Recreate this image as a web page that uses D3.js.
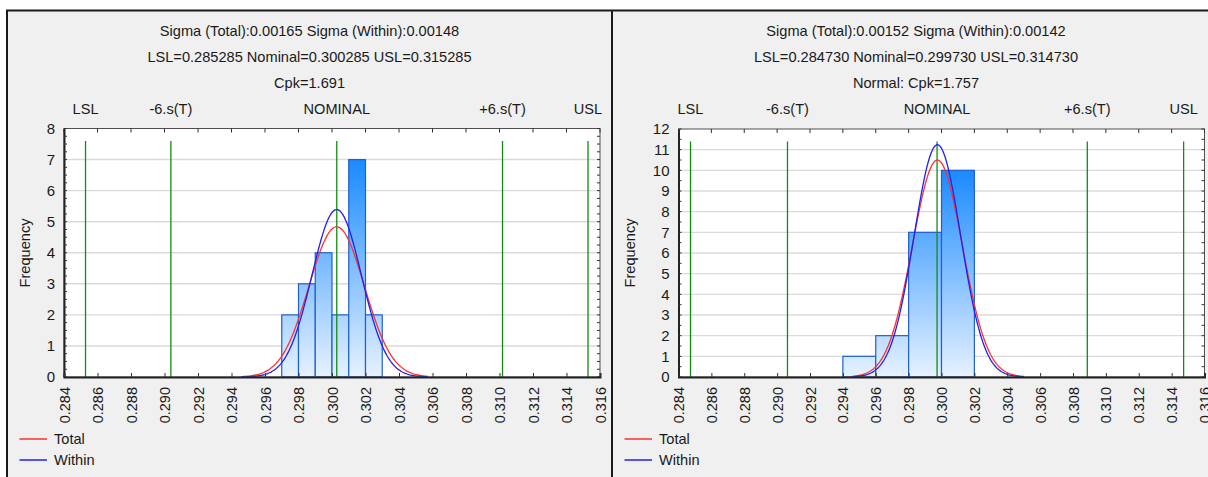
<!DOCTYPE html>
<html>
<head>
<meta charset="utf-8">
<script src="https://cdn.jsdelivr.net/npm/d3@7"></script>
<style>
  body { margin: 0; background: #ffffff; }
  svg { display: block; font-family: "Liberation Sans", Arial, sans-serif; }
</style>
</head>
<body>
<svg id="chart" width="1208" height="477"></svg>
<script>
// ---- shared axis labels ----
const xTickValues = [0.284, 0.286, 0.288, 0.290, 0.292, 0.294, 0.296, 0.298,
                     0.300, 0.302, 0.304, 0.306, 0.308, 0.310, 0.312, 0.314, 0.316];
const specLineLabels = ["LSL", "-6.s(T)", "NOMINAL", "+6.s(T)", "USL"];
const legendLabels = ["Total", "Within"];

// ---- left study ----
const leftTitle = ["Sigma (Total):0.00165 Sigma (Within):0.00148",
                   "LSL=0.285285 Nominal=0.300285 USL=0.315285",
                   "Cpk=1.691"];
const leftBinEdges = [0.297, 0.298, 0.299, 0.300, 0.301, 0.302, 0.303];
const leftCounts = [2, 3, 4, 2, 7, 2];
const leftSpecLimits = [0.285285, 0.300285, 0.315285];   // LSL, Nominal, USL
const leftMean = 0.30028;
const leftSigmas = [0.00165, 0.00148];                    // Total, Within
const leftCurveSpan = [0.2946, 0.3057];
const leftYTicks = [0, 1, 2, 3, 4, 5, 6, 7, 8];

// ---- right study ----
const rightTitle = ["Sigma (Total):0.00152 Sigma (Within):0.00142",
                    "LSL=0.284730 Nominal=0.299730 USL=0.314730",
                    "Normal: Cpk=1.757"];
const rightBinEdges = [0.294, 0.296, 0.298, 0.300, 0.302];
const rightCounts = [1, 2, 7, 10];
const rightSpecLimits = [0.284730, 0.299730, 0.314730];
const rightMean = 0.29975;
const rightSigmas = [0.00152, 0.00142];
const rightCurveSpan = [0.29458, 0.30502];
const rightYTicks = [0, 1, 2, 3, 4, 5, 6, 7, 8, 9, 10, 11, 12];

const svg = d3.select("#chart");
const curveColors = ["#ff3030", "#2020f0"];

// gradients used for the histogram bars (deep at the tallest bar, pale at zero)
const defs = svg.append("defs");

function drawPanel(cfg, id) {
  const { frame, plot } = cfg;
  const g = svg.append("g");

  // panel background
  g.append("rect")
    .attr("x", frame[0]).attr("y", 10)
    .attr("width", frame[1] - frame[0]).attr("height", 480)
    .attr("fill", "#f0f0f0");

  const x = d3.scaleLinear().domain([xTickValues[0], xTickValues[xTickValues.length - 1]])
    .range([plot.left, plot.right]);
  const yMax = d3.max(cfg.yTicks);
  const y = d3.scaleLinear().domain([0, yMax]).range([plot.bottom, plot.top]);

  // title lines
  const cx = (frame[0] + frame[1]) / 2;
  g.selectAll("text.title").data(cfg.title).join("text")
    .attr("class", "title")
    .attr("x", cx).attr("y", (d, i) => 31 + i * 26)
    .attr("dy", "0.35em")
    .attr("text-anchor", "middle")
    .attr("font-size", 14.6).attr("fill", "#1a1a1a")
    .text(d => d);

  // plot area
  g.append("rect")
    .attr("x", plot.left).attr("y", plot.top)
    .attr("width", plot.right - plot.left).attr("height", plot.bottom - plot.top)
    .attr("fill", "#ffffff");

  // horizontal gridlines
  g.selectAll("line.grid").data(cfg.yTicks.filter(v => v > 0 && v < yMax)).join("line")
    .attr("x1", plot.left).attr("x2", plot.right)
    .attr("y1", d => y(d)).attr("y2", d => y(d))
    .attr("stroke", "#dadada").attr("stroke-width", 1.4);

  // bars
  const maxCount = d3.max(cfg.counts);
  const grad = defs.append("linearGradient")
    .attr("id", "barFill" + id)
    .attr("gradientUnits", "userSpaceOnUse")
    .attr("x1", 0).attr("x2", 0)
    .attr("y1", y(maxCount)).attr("y2", y(0));
  grad.append("stop").attr("offset", 0).attr("stop-color", "#1a8aff");
  grad.append("stop").attr("offset", 1).attr("stop-color", "#e6f2ff");

  const bins = cfg.counts.map((c, i) => ({ x0: cfg.edges[i], x1: cfg.edges[i + 1], count: c }));
  g.selectAll("rect.bar").data(bins).join("rect")
    .attr("class", "bar")
    .attr("x", d => x(d.x0)).attr("width", d => x(d.x1) - x(d.x0))
    .attr("y", d => y(d.count)).attr("height", d => y(0) - y(d.count))
    .attr("fill", `url(#barFill${id})`)
    .attr("stroke", "#1f5fd0").attr("stroke-width", 1.2);

  // specification and ±6 sigma lines
  const sT = cfg.sigmas[0];
  const specValues = [cfg.specs[0], cfg.mean - 6 * sT, cfg.specs[1], cfg.mean + 6 * sT, cfg.specs[2]];
  g.selectAll("line.spec").data(specValues).join("line")
    .attr("x1", d => x(d)).attr("x2", d => x(d))
    .attr("y1", plot.top + 12.5).attr("y2", plot.bottom)
    .attr("stroke", "#138a13").attr("stroke-width", 1.3);

  g.selectAll("text.spec").data(specValues).join("text")
    .attr("x", d => x(d)).attr("y", 109)
    .attr("dy", "0.35em").attr("text-anchor", "middle")
    .attr("font-size", 14.6).attr("fill", "#1a1a1a")
    .text((d, i) => specLineLabels[i]);

  // fitted normal curves: Total and Within
  const n = d3.sum(cfg.counts);
  const binWidth = cfg.edges[1] - cfg.edges[0];
  const samples = d3.range(0, 201).map(i => cfg.span[0] + i * (cfg.span[1] - cfg.span[0]) / 200);
  const line = d3.line().x(d => x(d[0])).y(d => y(d[1])).curve(d3.curveLinear);
  cfg.sigmas.forEach((s, k) => {
    const pts = samples.map(v => [v, n * binWidth * Math.exp(-0.5 * ((v - cfg.mean) / s) ** 2) / (s * Math.sqrt(2 * Math.PI))]);
    g.append("path").datum(pts)
      .attr("d", line).attr("fill", "none")
      .attr("stroke", curveColors[k]).attr("stroke-width", 1.3);
  });

  // frame of the plot area
  g.append("rect")
    .attr("x", plot.left).attr("y", plot.top)
    .attr("width", plot.right - plot.left).attr("height", plot.bottom - plot.top)
    .attr("fill", "none").attr("stroke", "#505050").attr("stroke-width", 1);

  // left axis
  const yAxis = d3.axisLeft(y).tickValues(cfg.yTicks).tickSize(0).tickPadding(9).tickFormat(d3.format("d"));
  const ya = g.append("g").attr("transform", `translate(${plot.left},0)`).call(yAxis);
  ya.select(".domain").attr("stroke", "#222").attr("stroke-width", 2);
  ya.selectAll("text").attr("font-size", 15).attr("fill", "#1a1a1a")
    .attr("font-family", "'Liberation Sans', Arial, sans-serif");

  // minor ticks on left and right edges
  const minor = d3.range(0, yMax + 1e-9, cfg.minorStep);
  g.selectAll("line.minorL").data(minor).join("line")
    .attr("x1", plot.left).attr("x2", plot.left + 3)
    .attr("y1", d => y(d)).attr("y2", d => y(d))
    .attr("stroke", "#333").attr("stroke-width", 1);
  g.selectAll("line.minorR").data(minor).join("line")
    .attr("x1", plot.right - 3).attr("x2", plot.right)
    .attr("y1", d => y(d)).attr("y2", d => y(d))
    .attr("stroke", "#333").attr("stroke-width", 1);

  // top ticks
  g.selectAll("line.topTick").data(xTickValues).join("line")
    .attr("x1", d => x(d)).attr("x2", d => x(d))
    .attr("y1", plot.top).attr("y2", plot.top + 4)
    .attr("stroke", "#333").attr("stroke-width", 1);

  // bottom axis with vertical labels
  const xAxis = d3.axisBottom(x).tickValues(xTickValues).tickSize(-4).tickPadding(0)
    .tickFormat(d3.format(".3f"));
  const xa = g.append("g").attr("transform", `translate(0,${plot.bottom})`).call(xAxis);
  xa.select(".domain").attr("stroke", "#222").attr("stroke-width", 2);
  xa.selectAll(".tick line").attr("stroke", "#333");
  xa.selectAll("text")
    .attr("font-size", 14.5).attr("fill", "#1a1a1a")
    .attr("font-family", "'Liberation Sans', Arial, sans-serif")
    .attr("transform", "rotate(-90)")
    .attr("text-anchor", "end")
    .attr("x", -10).attr("y", 0).attr("dy", "0.35em");

  // y axis title
  g.append("text")
    .attr("transform", `translate(${frame[0] + 18},253) rotate(-90)`)
    .attr("text-anchor", "middle").attr("dy", "0.35em")
    .attr("font-size", 14.6).attr("fill", "#1a1a1a")
    .text("Frequency");

  // legend
  legendLabels.forEach((lab, k) => {
    const ly = 439 + k * 21;
    g.append("line")
      .attr("x1", frame[0] + 12.5).attr("x2", frame[0] + 40)
      .attr("y1", ly).attr("y2", ly)
      .attr("stroke", curveColors[k]).attr("stroke-width", 1.5);
    g.append("text")
      .attr("x", frame[0] + 47).attr("y", ly).attr("dy", "0.35em")
      .attr("font-size", 14.6).attr("fill", "#1a1a1a")
      .text(lab);
  });
}

drawPanel({
  frame: [7, 612],
  plot: { left: 64, right: 600, top: 128.5, bottom: 377 },
  title: leftTitle, edges: leftBinEdges, counts: leftCounts,
  specs: leftSpecLimits, mean: leftMean, sigmas: leftSigmas, span: leftCurveSpan,
  yTicks: leftYTicks, minorStep: 0.25
}, "L");

drawPanel({
  frame: [612, 1220],
  plot: { left: 678.5, right: 1204.5, top: 129, bottom: 377 },
  title: rightTitle, edges: rightBinEdges, counts: rightCounts,
  specs: rightSpecLimits, mean: rightMean, sigmas: rightSigmas, span: rightCurveSpan,
  yTicks: rightYTicks, minorStep: 0.5
}, "R");

// outer panel borders
svg.append("path")
  .attr("d", "M7,490 V10.5 H1208 M612,10.5 V490")
  .attr("fill", "none").attr("stroke", "#1a1a1a").attr("stroke-width", 2);
</script>
</body>
</html>
